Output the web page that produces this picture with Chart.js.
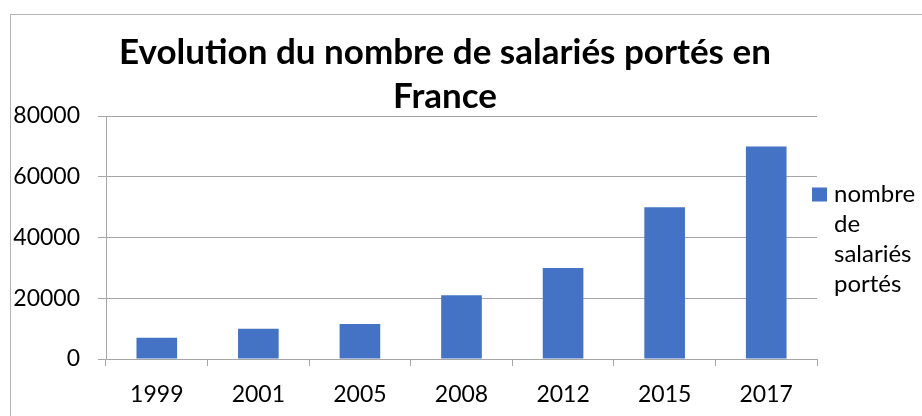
<!DOCTYPE html>
<html>
<head>
<meta charset="utf-8">
<script src="https://cdn.jsdelivr.net/npm/chart.js@4"></script>
<style>
  html, body { margin: 0; padding: 0; background: #fff; overflow: hidden; }
  #frame { position: absolute; left: 10px; top: 14px; width: 1000px; height: 1000px; border: 1px solid #b4b4b4; }
  #chart { position: absolute; left: 0; top: 0; }
</style>
</head>
<body>
<div id="frame"></div>
<canvas id="chart" width="922" height="416"></canvas>
<script>
  /* ── data ── */
  const years = ['1999', '2001', '2005', '2008', '2012', '2015', '2017'];
  const salaries = [7000, 10000, 11500, 21000, 30000, 50000, 70000];
  const seriesLabel = 'nombre de salariés portés';
  const titleLines = ['Evolution du nombre de salariés portés en', 'France'];
  const yMax = 80000;
  const yStep = 20000;

  const FONT = 'Lato, "Open Sans", sans-serif';
  const BAR = '#4472C4';
  const GRID = '#a6a6a6';

  /* ── legend drawn to the right, words wrapped like the original ── */
  const wrapLegend = {
    id: 'wrapLegend',
    afterDraw(chart) {
      const { ctx, chartArea } = chart;
      const ds = chart.data.datasets[0];
      ctx.save();
      ctx.font = '24px ' + FONT;
      const textX = chartArea.right + 17;
      const maxW = chart.width - textX - 1;
      const lines = [];
      let cur = '';
      ds.label.split(' ').forEach(w => {
        const test = cur ? cur + ' ' + w : w;
        if (cur && ctx.measureText(test).width > maxW) { lines.push(cur); cur = w; }
        else cur = test;
      });
      if (cur) lines.push(cur);
      const lh = 30;
      const midY = (chartArea.top + chartArea.bottom) / 2 + 2;
      const firstY = midY - lh * (lines.length - 1) / 2;
      ctx.fillStyle = ds.backgroundColor;
      ctx.fillRect(chartArea.right - 5, firstY - 7, 15, 14);
      ctx.fillStyle = '#000';
      ctx.textBaseline = 'middle';
      ctx.textAlign = 'left';
      lines.forEach((l, i) => ctx.fillText(l, textX, firstY + i * lh));
      ctx.restore();
    }
  };

  new Chart(document.getElementById('chart').getContext('2d'), {
    type: 'bar',
    data: {
      labels: years,
      datasets: [{
        label: seriesLabel,
        data: salaries,
        backgroundColor: BAR,
        categoryPercentage: 1,
        barPercentage: 0.4
      }]
    },
    options: {
      responsive: false,
      animation: false,
      layout: { padding: { left: 10, right: 42, top: 31, bottom: 7 } },
      plugins: {
        legend: { display: false },
        tooltip: { enabled: false },
        title: {
          display: true,
          text: titleLines,
          color: '#000',
          font: { family: FONT, size: 35, weight: 'bold', lineHeight: '44px' },
          padding: { top: 0, bottom: -3 }
        }
      },
      scales: {
        y: {
          min: 0,
          max: yMax,
          afterFit: s => { s.width = 96; },
          ticks: {
            stepSize: yStep,
            padding: 18,
            color: '#000',
            font: { family: FONT, size: 23 },
            callback: v => String(v)
          },
          grid: { color: GRID, tickLength: 8 },
          border: { color: GRID }
        },
        // empty right-hand box: keeps room for the legend so the title centres on the whole frame
        legendSpace: {
          type: 'linear',
          position: 'right',
          afterFit: s => { s.width = 63; },
          ticks: { display: false },
          grid: { display: false },
          border: { display: false }
        },
        x: {
          afterFit: s => { s.height = 50; },
          ticks: {
            padding: 15,
            color: '#000',
            font: { family: FONT, size: 23 }
          },
          grid: { color: GRID, drawOnChartArea: false, tickLength: 7 },
          border: { color: GRID }
        }
      }
    },
    plugins: [wrapLegend]
  });
</script>
</body>
</html>
